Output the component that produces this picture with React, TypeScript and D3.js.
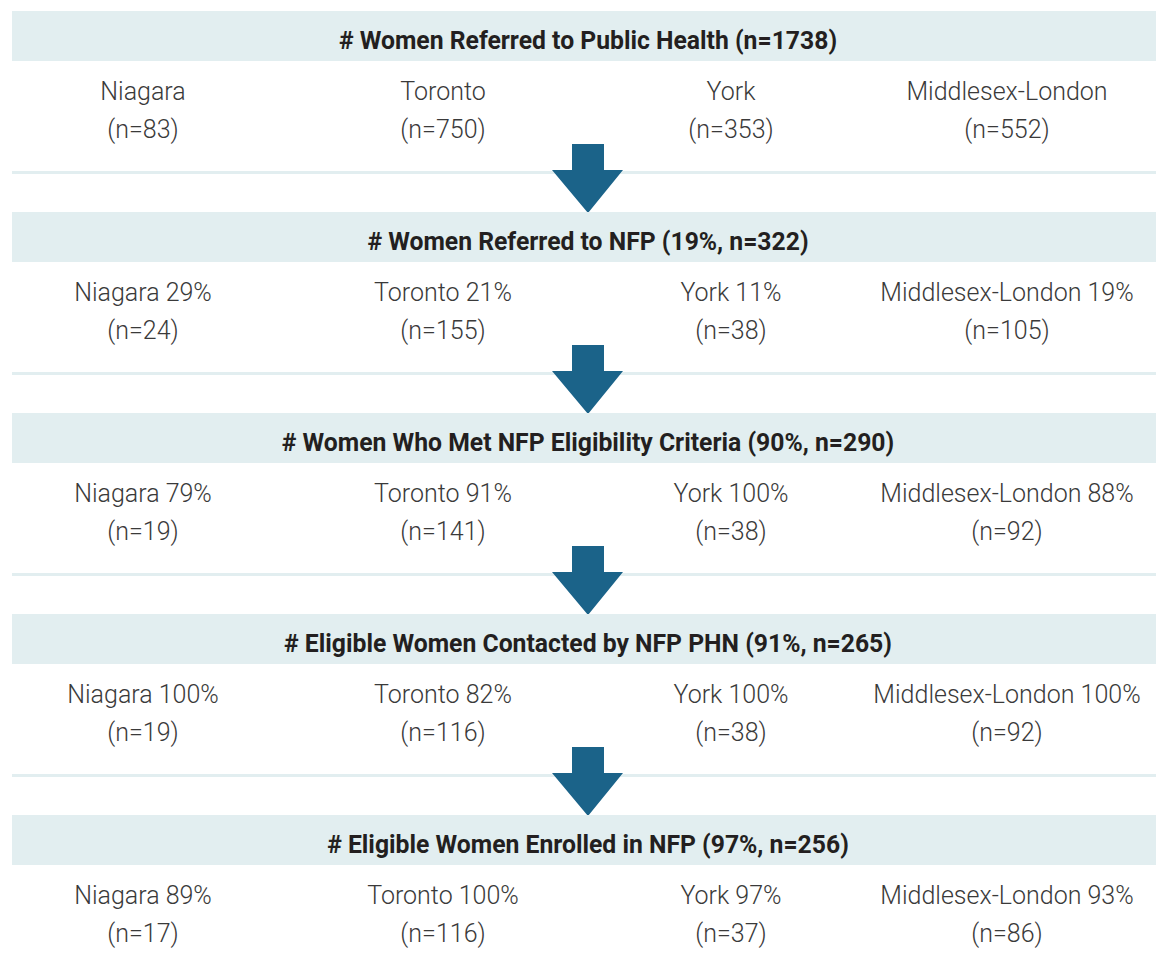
import React from 'react'
import * as d3 from 'd3'

// stage headers
const stageTitles = [
  '# Women Referred to Public Health',
  '# Women Referred to NFP',
  '# Women Who Met NFP Eligibility Criteria',
  '# Eligible Women Contacted by NFP PHN',
  '# Eligible Women Enrolled in NFP',
]
const stagePct = [null, 19, 90, 91, 97]
const stageN = [1738, 322, 290, 265, 256]

const regions = ['Niagara', 'Toronto', 'York', 'Middlesex-London']

// per stage, per region
const regionPct = [
  [null, null, null, null],
  [29, 21, 11, 19],
  [79, 91, 100, 88],
  [100, 82, 100, 100],
  [89, 100, 97, 93],
]
const regionN = [
  [83, 750, 353, 552],
  [24, 155, 38, 105],
  [19, 141, 38, 92],
  [19, 116, 38, 92],
  [17, 116, 37, 86],
]

const W = 1156
const H = 966
const BAND_FILL = '#e2eef0'
const ARROW = '#1b6389'
const BODY_FONT = 'Roboto, "Open Sans", sans-serif'

export default function App() {
  const stageIdx = d3.range(stageTitles.length)

  const y = d3.scaleBand<number>()
    .domain(stageIdx)
    .range([11, 11 + 201 * stageIdx.length])
    .paddingInner(0)

  // column centres of the four regions
  const x = d3.scaleOrdinal<string, number>()
    .domain(regions)
    .range([143, 443, 731, 1007])

  const header = (i: number) => {
    const p = stagePct[i]
    return p == null
      ? `${stageTitles[i]} (n=${stageN[i]})`
      : `${stageTitles[i]} (${p}%, n=${stageN[i]})`
  }

  return (
    <svg width={W} height={H} style={{ position: 'absolute', left: 0, top: 0, background: '#fff' }}>
      {stageIdx.map((i) => {
        const top = y(i)!
        return (
          <g key={i} transform={`translate(0,${top})`}>
            <rect x={12} y={0} width={W - 12} height={50} fill={BAND_FILL} />
            <g transform={`translate(${W / 2 + 10},38) scale(0.97,1)`}>
              <text
                textAnchor="middle"
                fontFamily={BODY_FONT}
                fontWeight={700}
                fontSize={25.5}
                fill="#231f20">
                {header(i)}
              </text>
            </g>
            {regions.map((r, j) => {
              const p = regionPct[i][j]
              return (
                <g key={r} transform={`translate(${x(r)},0)`} fontFamily={BODY_FONT} fontWeight={300} fontSize={25} fill="#3a3a3a" textAnchor="middle">
                  <text y={89}>{p == null ? r : `${r} ${p}%`}</text>
                  <text y={127}>{`(n=${regionN[i][j]})`}</text>
                </g>
              )
            })}
            {i < stageIdx.length - 1 && (
              <>
                <rect x={12} y={160} width={W - 12} height={3} fill={BAND_FILL} />
                <path
                  d={d3.line()([
                    [572, 133], [604, 133], [604, 159], [623, 159],
                    [588, 202], [552, 159], [572, 159],
                  ])! + 'Z'}
                  fill={ARROW}
                />
              </>
            )}
          </g>
        )
      })}
    </svg>
  )
}
